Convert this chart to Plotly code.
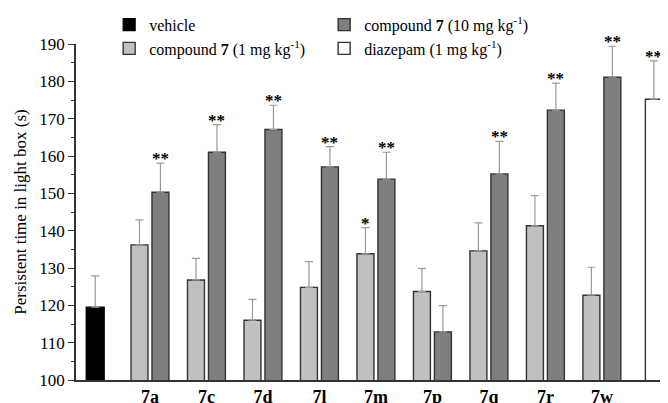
import plotly.graph_objects as go

compounds = ["7a", "7c", "7d", "7l", "7m", "7p", "7q", "7r", "7w"]
categories = ["vehicle"] + compounds + ["diazepam"]

vehicle_val = [119.5]
vehicle_err = [8.4]

low_dose = [136.2, 126.8, 116.0, 124.8, 133.8, 123.7, 134.6, 141.3, 122.7]
low_err = [6.7, 5.8, 5.6, 6.9, 7.0, 6.2, 7.5, 8.1, 7.5]
low_sig = ["", "", "", "", "*", "", "", "", ""]

high_dose = [150.3, 161.0, 167.1, 157.1, 153.8, 112.9, 155.2, 172.3, 181.1]
high_err = [7.8, 7.4, 6.5, 5.4, 7.2, 7.0, 8.7, 7.2, 8.3]
high_sig = ["**", "**", "**", "**", "**", "", "**", "**", "**"]

diazepam_val = [175.2]
diazepam_err = [10.3]
diazepam_sig = ["**"]

y_ticks = [100, 110, 120, 130, 140, 150, 160, 170, 180, 190]

FONT = "Liberation Serif, Times New Roman, serif"
LINE = "#333333"
ERR = "#9a9a9a"

W_LOW, OFF_LOW = 0.30, -0.336
W_HIGH, OFF_HIGH = 0.30, 0.035
W_VEH, OFF_VEH = 0.32, -0.13
W_DIA, OFF_DIA = 0.30, -0.23


def err(arr):
    return dict(type="data", array=arr, arrayminus=[0] * len(arr), symmetric=False,
                color=ERR, thickness=1.2, width=4)


fig = go.Figure()
fig.add_trace(go.Bar(x=["vehicle"], y=vehicle_val, name="vehicle", width=W_VEH, offset=OFF_VEH,
                     marker=dict(color="#000000", line=dict(color="#000000", width=1.2)),
                     error_y=err(vehicle_err)))
fig.add_trace(go.Bar(x=compounds, y=high_dose, name="compound <b>7</b> (10 mg kg<sup>-1</sup>)",
                     width=W_HIGH, offset=OFF_HIGH,
                     marker=dict(color="#7f7f7f", line=dict(color=LINE, width=1.4)),
                     error_y=err(high_err)))
fig.add_trace(go.Bar(x=compounds, y=low_dose, name="compound <b>7</b> (1 mg kg<sup>-1</sup>)",
                     width=W_LOW, offset=OFF_LOW,
                     marker=dict(color="#c0c0c0", line=dict(color=LINE, width=1.4)),
                     error_y=err(low_err)))
fig.add_trace(go.Bar(x=["diazepam"], y=diazepam_val, name="diazepam (1 mg kg<sup>-1</sup>)",
                     width=W_DIA, offset=OFF_DIA,
                     marker=dict(color="#ffffff", line=dict(color=LINE, width=1.4)),
                     error_y=err(diazepam_err)))

annotations = []
for i, c in enumerate(compounds):
    idx = categories.index(c)
    if low_sig[i]:
        annotations.append(dict(x=idx + OFF_LOW + W_LOW / 2, y=low_dose[i] + low_err[i], text=low_sig[i]))
    if high_sig[i]:
        annotations.append(dict(x=idx + OFF_HIGH + W_HIGH / 2, y=high_dose[i] + high_err[i], text=high_sig[i]))
idx = categories.index("diazepam")
annotations.append(dict(x=idx + OFF_DIA + W_DIA / 2, y=diazepam_val[0] + diazepam_err[0], text=diazepam_sig[0]))
for a in annotations:
    a.update(xref="x", yref="y", showarrow=False, yanchor="bottom", yshift=-7,
             font=dict(family=FONT, size=17, color="#000000", weight="bold"))

# the page body adds an 8 px offset, so the figure is 8 px smaller on each axis
fig.update_layout(
    width=660, height=395,
    margin=dict(l=68, r=0, t=36, b=23, autoexpand=False),
    paper_bgcolor="white", plot_bgcolor="white",
    barmode="overlay",
    font=dict(family=FONT, size=17, color="#000000"),
    showlegend=True,
    legend=dict(orientation="h", x=0.056, y=1.108, xanchor="left", yanchor="top",
                entrywidth=170, entrywidthmode="pixels", traceorder="normal",
                font=dict(family=FONT, size=16), bgcolor="rgba(0,0,0,0)"),
    annotations=annotations,
)
fig.update_xaxes(type="category", categoryorder="array", categoryarray=categories,
                 range=[-0.31, 10.17], tickmode="array", tickvals=compounds, ticktext=compounds,
                 tickfont=dict(family=FONT, size=18, color="#000000", weight="bold"),
                 showline=True, linecolor=LINE, linewidth=1.5, ticks="", showgrid=False,
                 zeroline=False, automargin=False)
fig.update_yaxes(range=[100, 190], tickmode="array", tickvals=y_ticks,
                 ticks="outside", ticklen=6, tickwidth=1.3, tickcolor=LINE,
                 minor=dict(dtick=5, ticks="outside", ticklen=3, tickwidth=1.2, tickcolor=LINE),
                 showline=True, linecolor=LINE, linewidth=1.5, showgrid=False, zeroline=False,
                 automargin=False,
                 tickfont=dict(family=FONT, size=17, color="#000000"),
                 title=dict(text="Persistent time in light box (s)", standoff=8,
                            font=dict(family=FONT, size=17)))

fig.write_html("out.html")
